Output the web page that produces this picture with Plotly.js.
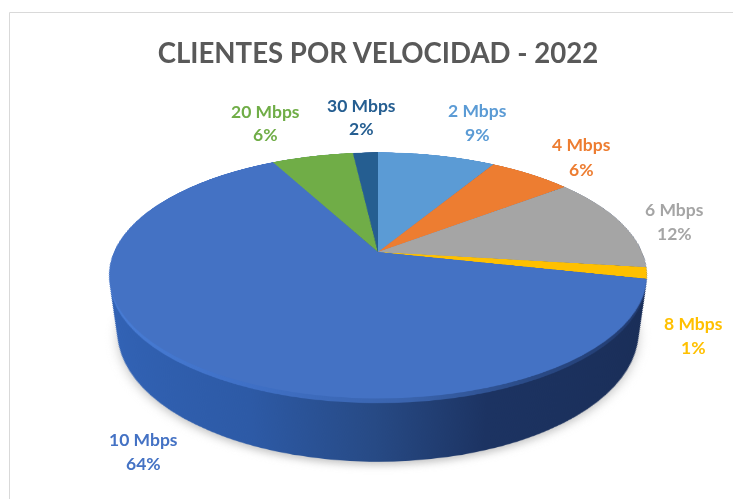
<!DOCTYPE html>
<html><head><meta charset="utf-8">
<script src="https://cdn.plot.ly/plotly-3.0.1.min.js"></script>
<style>html,body{margin:0;padding:0;background:#fff;overflow:hidden}#gd{width:733px;height:499px}</style>
</head><body><div id="gd"></div>
<script>
// ---- data ----
const categories = ['2 Mbps','4 Mbps','6 Mbps','8 Mbps','10 Mbps','20 Mbps','30 Mbps'];
const shares = [8.5,6.0,12.49,1.49,63.82,5.9,1.8];
// ---- styling / placement ----
const sliceColors = ['#5B9BD5','#ED7D31','#A5A5A5','#FFC000','#4472C4','#70AD47','#255E91'];
const labelColors = ['#5B9BD5','#ED7D31','#A5A5A5','#FFC000','#4472C4','#70AD47','#255E91'];
const labelCentersX = [477,581,674,693,143,265,361];
const labelCentersY = [110,145,209,323,439,111,105];
const W=733,H=499,CX=378,CY=252,R=150;
const LAYERS=26, WALL_SHIFT=65, WALL_SHRINK=0.11;

const domain={x:[(CX-R)/W,(CX+R)/W],y:[1-(CY+R)/H,1-(CY-R)/H]};
const base={type:'pie',values:shares,labels:categories,sort:false,direction:'clockwise',rotation:0,
  textinfo:'none',hoverinfo:'none',showlegend:false,domain:domain,marker:{line:{width:0}}};
const traces=[];
traces.push(Object.assign({},base,{marker:{colors:categories.map(()=>'#c4c4c4'),line:{width:0}}})); // shadow
for(let i=0;i<LAYERS;i++) traces.push(Object.assign({},base,{marker:{colors:sliceColors,line:{width:0}}}));
traces.push(Object.assign({},base,{marker:{colors:sliceColors,line:{width:0}}}));

const anns=[];
categories.forEach((c,i)=>{
  const f={family:'Lato, Carlito, sans-serif',size:17.5,color:labelColors[i]};
  anns.push({xref:'paper',yref:'paper',x:labelCentersX[i]/W,y:1-labelCentersY[i]/H,text:'<b>'+c+'</b>',showarrow:false,xanchor:'center',yanchor:'middle',font:f});
  anns.push({xref:'paper',yref:'paper',x:labelCentersX[i]/W,y:1-(labelCentersY[i]+24)/H,text:'<b>'+Math.round(shares[i])+'%</b>',showarrow:false,xanchor:'center',yanchor:'middle',font:f});
});
const layout={width:W,height:H,margin:{l:0,r:0,t:0,b:0},paper_bgcolor:'rgba(255,255,255,0)',plot_bgcolor:'rgba(0,0,0,0)',
  title:{text:'<b>CLIENTES POR VELOCIDAD - 2022</b>',x:378/W,xanchor:'center',y:1-53/H,yanchor:'middle',yref:'container',
    font:{family:'Lato, Carlito, sans-serif',size:27.6,color:'#595959'}},
  annotations:anns,
  shapes:[
   {type:'line',xref:'paper',yref:'paper',x0:9.5/W,x1:1,y0:1-12.5/H,y1:1-12.5/H,layer:'above',line:{color:'#d9d9d9',width:1}},
   {type:'line',xref:'paper',yref:'paper',x0:9.5/W,x1:9.5/W,y0:0,y1:1-12.5/H,layer:'above',line:{color:'#d9d9d9',width:1}}
  ]};

Plotly.newPlot('gd',traces,layout,{displayModeBar:false,staticPlot:true}).then(gd=>{
  const svg=gd.querySelector('.main-svg');
  const NS='http://www.w3.org/2000/svg';
  const defs=document.createElementNS(NS,'defs');
  const grad=(id,stops)=>{const g=document.createElementNS(NS,'linearGradient');g.setAttribute('id',id);
    stops.forEach(([o,c])=>{const s=document.createElementNS(NS,'stop');s.setAttribute('offset',o);s.setAttribute('stop-color',c);g.appendChild(s);});defs.appendChild(g);};
  grad('wall',[[0,'#3263B6'],[0.3,'#2D5AA6'],[0.5,'#274A85'],[0.68,'#1C3362'],[1,'#1A2E58']]);
  grad('lip',[[0,'#4A7FD8'],[0.3,'#3F70C6'],[0.55,'#3A64AE'],[0.75,'#2A4A86'],[1,'#20386B']]);
  const fl=document.createElementNS(NS,'filter');fl.setAttribute('id','soft');
  ['x','y'].forEach(a=>fl.setAttribute(a,'-20%'));['width','height'].forEach(a=>fl.setAttribute(a,'140%'));
  const b=document.createElementNS(NS,'feGaussianBlur');b.setAttribute('stdDeviation','3');fl.appendChild(b);defs.appendChild(fl);
  svg.insertBefore(defs,svg.firstChild);

  const groups=[...gd.querySelectorAll('.pielayer .trace')];
  const wallTransform=t=>{const k=WALL_SHIFT*t,f=1-WALL_SHRINK*t;
    return `translate(${CX},${CY+k}) scale(${f}) translate(${-CX},${-CY})`;};
  groups[0].setAttribute('transform',wallTransform(1.05));
  groups[0].setAttribute('filter','url(#soft)');
  for(let i=0;i<LAYERS;i++){
    const t=1-i/(LAYERS-1);
    groups[i+1].setAttribute('transform',wallTransform(t));
    const paths=groups[i+1].querySelectorAll('.slice path');
    paths.forEach(p=>{p.style.fill=(t<0.1)?'url(#lip)':'url(#wall)';});
  }
  svg.style.transformOrigin=CX+'px '+CY+'px';
  svg.style.transform='perspective(1241px) rotateX(63.3deg) scale(1.76)';
  svg.style.background='transparent';
});
</script>
</body></html>
